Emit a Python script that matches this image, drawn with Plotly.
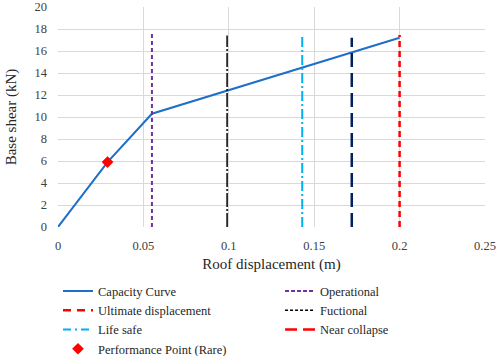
import plotly.graph_objects as go

# Capacity curve
cap_x = [0, 0.029, 0.055, 0.2]
cap_y = [0, 5.9, 10.3, 17.2]

# Performance point
pp_x = [0.029]
pp_y = [5.9]

# Limit-state lines: name, x position, top value
ls_names = ["Operational", "Ultimate displacement", "Fuctional", "Life safe", "Near collapse"]
ls_x = [0.055, 0.2, 0.099, 0.143, 0.172]
ls_top = [17.6, 17.45, 17.4, 17.3, 17.2]

x_ticks = [0, 0.05, 0.1, 0.15, 0.2, 0.25]
x_tick_labels = ["0", "0.05", "0.1", "0.15", "0.2", "0.25"]
y_ticks = [0, 2, 4, 6, 8, 10, 12, 14, 16, 18, 20]

plot_styles = {
    "Operational": dict(color="#7030A0", dash="4px,3px", width=2),
    "Ultimate displacement": dict(color="#FF0000", dash="6px,4px", width=2.5),
    "Fuctional": dict(color="#000000", dash="14px,2px,2px,2px", width=1.5),
    "Life safe": dict(color="#00B0F0", dash="10px,3px,2px,3px", width=2),
    "Near collapse": dict(color="#002060", dash="14px,6px", width=2.5),
}
legend_styles = {
    "Operational": dict(color="#7030A0", dash="4px,2px", width=2),
    "Ultimate displacement": dict(color="#FF0000", dash="8px,6px", width=2.5),
    "Fuctional": dict(color="#000000", dash="3px,2px", width=1.5),
    "Life safe": dict(color="#00B0F0", dash="8px,4px,2px,4px", width=2),
    "Near collapse": dict(color="#FF0000", dash="12px,6px", width=2.5),
}
legend_col = {
    "Operational": "legend2",
    "Ultimate displacement": "legend",
    "Fuctional": "legend2",
    "Life safe": "legend",
    "Near collapse": "legend2",
}

FF = "Liberation Serif, serif"

fig = go.Figure()

fig.add_trace(go.Scatter(x=cap_x, y=cap_y, mode="lines", name="Capacity Curve",
                         line=dict(color="#1F6FC8", width=2), legend="legend", legendrank=1))
for name, xv, top in zip(ls_names, ls_x, ls_top):
    fig.add_trace(go.Scatter(x=[xv, xv], y=[0, top], mode="lines", name=name,
                             line=plot_styles[name], showlegend=False))
for i, name in enumerate(ls_names):
    fig.add_trace(go.Scatter(x=[None], y=[None], mode="lines", name=name,
                             line=legend_styles[name], legend=legend_col[name],
                             legendrank=i + 2))
fig.add_trace(go.Scatter(x=pp_x, y=pp_y, mode="markers", name="Performance Point (Rare)",
                         marker=dict(symbol="diamond", color="#FF0000", size=9),
                         legend="legend", legendrank=10))

leg_common = dict(orientation="v", yanchor="top", xanchor="left",
                  font=dict(family=FF, size=12.5, color="#262626"), itemwidth=30,
                  tracegroupgap=0, bgcolor="rgba(0,0,0,0)")
fig.update_layout(
    width=498, height=356,
    margin=dict(l=58, r=13, t=7, b=129, autoexpand=False),
    plot_bgcolor="white", paper_bgcolor="white",
    font=dict(family=FF, color="#404040", size=12),
    showlegend=True,
    legend=dict(x=0.0, y=-0.2245, **leg_common),
    legend2=dict(x=0.52, y=-0.2245, **leg_common),
    xaxis=dict(range=[0, 0.25], tickvals=x_ticks, ticktext=x_tick_labels,
               showgrid=True, gridcolor="#D9D9D9", gridwidth=1,
               zeroline=False, showline=False, ticks="", ticklabelstandoff=9,
               ticklabeloverflow="allow",
               title=dict(text="Roof displacement (m)", font=dict(family=FF, size=15, color="#262626"), standoff=6),
               tickfont=dict(family=FF, size=12.5, color="#404040")),
    yaxis=dict(range=[0, 20], tickvals=y_ticks,
               showgrid=True, gridcolor="#D9D9D9", gridwidth=1,
               zeroline=False, showline=False, ticks="", ticklabelstandoff=10,
               ticklabeloverflow="allow",
               title=dict(text="Base shear (kN)", font=dict(family=FF, size=15, color="#262626"), standoff=14),
               tickfont=dict(family=FF, size=12.5, color="#404040")),
)
fig.write_html("out.html", config={"displayModeBar": False},
               post_script="document.body.style.margin='0';document.body.style.padding='0';")
